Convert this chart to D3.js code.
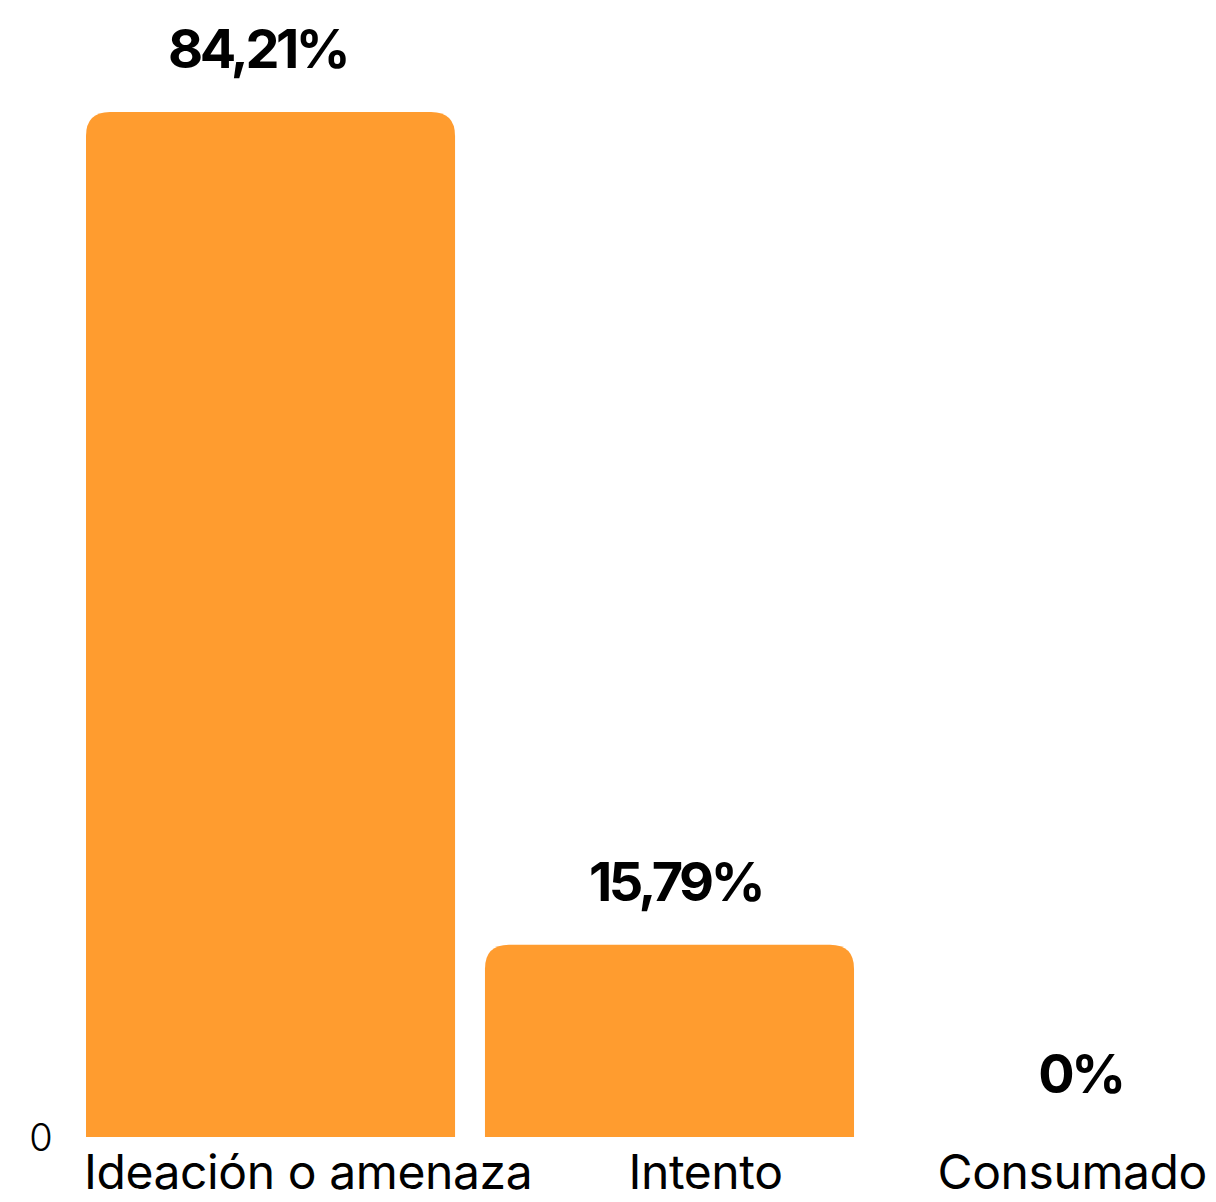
<!DOCTYPE html>
<html>
<head>
<meta charset="utf-8">
<script src="https://cdn.jsdelivr.net/npm/d3@7"></script>
<style>
  html, body { margin: 0; padding: 0; background: #fff; }
  svg { display: block; }
  text { font-family: Inter, "Noto Sans", sans-serif; fill: #000; }
</style>
</head>
<body>
<svg id="chart" width="1216" height="1202"></svg>
<script>
const categories = ["Ideación o amenaza", "Intento", "Consumado"];
const values = [84.21, 15.79, 0];
const valueLabels = ["84,21%", "15,79%", "0%"];
const yTicks = [0];

const W = 1216, H = 1202;
const svg = d3.select("#chart");

const x = d3.scaleBand()
  .domain(categories)
  .range([86, 1253])
  .paddingInner(0.075)
  .paddingOuter(0);

const y = d3.scaleLinear()
  .domain([0, d3.max(values)])
  .range([1137, 112]);

const r = 24;
function topRounded(x0, y0, w, h) {
  if (h <= 0) return "";
  const rr = Math.min(r, h, w / 2);
  return `M${x0},${y0 + h}V${y0 + rr}Q${x0},${y0} ${x0 + rr},${y0}H${x0 + w - rr}Q${x0 + w},${y0} ${x0 + w},${y0 + rr}V${y0 + h}Z`;
}

const data = categories.map((c, i) => ({ c, v: values[i], label: valueLabels[i] }));

svg.append("g").selectAll("path")
  .data(data)
  .join("path")
  .attr("d", d => topRounded(x(d.c), y(d.v), x.bandwidth(), y(0) - y(d.v)))
  .attr("fill", "#FF9C2F");

// value labels
const labelDx = [-13, 6, 12];
svg.append("g").selectAll("text")
  .data(data)
  .join("text")
  .attr("x", (d, i) => x(d.c) + x.bandwidth() / 2 + labelDx[i])
  .attr("y", d => y(d.v) - 44)
  .attr("text-anchor", "middle")
  .attr("font-size", 54)
  .attr("font-weight", 700)
  .attr("letter-spacing", "-3.5")
  .text(d => d.label);

// y tick
svg.append("g").selectAll("text")
  .data(yTicks)
  .join("text")
  .attr("x", 41)
  .attr("y", d => y(d))
  .attr("dy", "0.36em")
  .attr("text-anchor", "middle")
  .attr("font-size", 38)
  .attr("font-weight", 300)
  .text(d => d);

// category labels
const catPos = [
  c => ({ x: x(c) - 2, anchor: "start" }),
  c => ({ x: x(c) + x.bandwidth() / 2 + 36, anchor: "middle" }),
  c => ({ x: W - 9, anchor: "end" })
];
svg.append("g").selectAll("text")
  .data(categories)
  .join("text")
  .each(function(c, i) {
    const p = catPos[i](c);
    d3.select(this).attr("x", p.x).attr("text-anchor", p.anchor);
  })
  .attr("y", 1189)
  .attr("font-size", 48)
  .attr("font-weight", 400)
  .attr("letter-spacing", "-0.4")
  .text(d => d);
</script>
</body>
</html>
